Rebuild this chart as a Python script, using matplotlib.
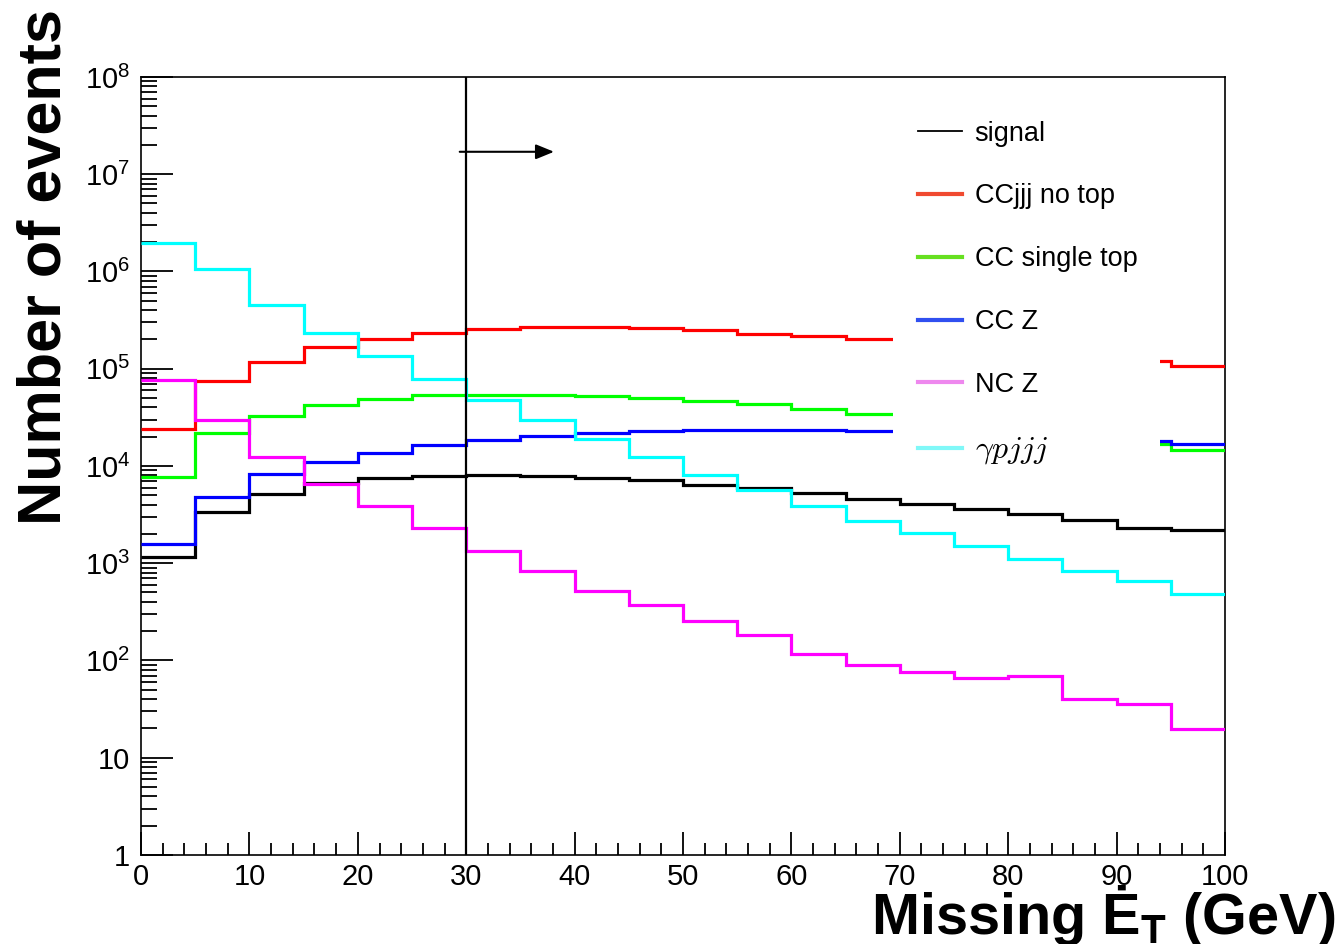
import matplotlib
matplotlib.use("Agg")
import matplotlib.pyplot as plt
from matplotlib.lines import Line2D
from matplotlib.patches import Rectangle
from matplotlib.ticker import FixedLocator, LogLocator, NullFormatter, FuncFormatter
import numpy as np

plt.rcParams["font.family"] = ["Liberation Sans", "DejaVu Sans"]

# 5 GeV bins of missing transverse energy
edges = [0, 5, 10, 15, 20, 25, 30, 35, 40, 45, 50,
         55, 60, 65, 70, 75, 80, 85, 90, 95, 100]

signal = [1.16e3, 3.35e3, 5.2e3, 6.75e3, 7.6e3, 7.9e3, 8.05e3, 7.9e3, 7.5e3, 7.1e3,
          6.3e3, 5.97e3, 5.3e3, 4.6e3, 4.1e3, 3.63e3, 3.17e3, 2.76e3, 2.29e3, 2.19e3]
ccjjj_notop = [2.4e4, 7.4e4, 1.17e5, 1.66e5, 2.04e5, 2.35e5, 2.56e5, 2.68e5, 2.68e5, 2.6e5,
               2.5e5, 2.3e5, 2.18e5, 2.0e5, 1.84e5, 1.68e5, 1.52e5, 1.36e5, 1.2e5, 1.07e5]
cc_single_top = [7.7e3, 2.2e4, 3.3e4, 4.25e4, 4.85e4, 5.35e4, 5.37e4, 5.37e4, 5.25e4, 5.03e4,
                 4.66e4, 4.37e4, 3.89e4, 3.46e4, 3.0e4, 2.6e4, 2.25e4, 1.95e4, 1.7e4, 1.45e4]
cc_z = [1.56e3, 4.8e3, 8.3e3, 1.1e4, 1.37e4, 1.63e4, 1.86e4, 2.04e4, 2.2e4, 2.27e4,
        2.32e4, 2.35e4, 2.37e4, 2.28e4, 2.2e4, 2.1e4, 2.0e4, 1.9e4, 1.8e4, 1.69e4]
nc_z = [7.7e4, 2.95e4, 1.24e4, 6.6e3, 3.86e3, 2.32e3, 1.32e3, 830, 524, 376,
        256, 184, 117, 90.5, 77, 66, 70, 40.5, 35.6, 19.9]
gamma_pjjj = [1.96e6, 1.05e6, 4.5e5, 2.35e5, 1.35e5, 7.9e4, 4.8e4, 2.95e4, 1.9e4, 1.23e4,
              8.1e3, 5.6e3, 3.9e3, 2.74e3, 2.03e3, 1.5e3, 1.11e3, 830, 653, 484]

labels = ["signal", "CCjjj no top", "CC single top", "CC Z", "NC Z", r"$\gamma p j j j$"]
line_colors = ["black", "#ff0000", "#00ff00", "#0000ff", "#ff00ff", "#00ffff"]
key_colors = ["black", "#f04a30", "#66e020", "#3050f0", "#ee88ee", "#80f8f8"]

cut_value = 30

fig = plt.figure(figsize=(13.42, 9.44), dpi=100)
ax = fig.add_axes([0.1051, 0.0943, 0.8077, 0.8242])

for vals, col in zip([signal, ccjjj_notop, cc_single_top, cc_z, nc_z, gamma_pjjj], line_colors):
    ax.stairs(vals, edges, baseline=None, color=col, lw=2.3, zorder=3)

ax.set_yscale("log")
ax.set_xlim(0, 100)
ax.set_ylim(1, 1e8)

# selection cut and direction arrow
ax.axvline(cut_value, color="black", lw=1.6, zorder=4)
ax.annotate("", xy=(38.1, 1.7e7), xytext=(29.4, 1.7e7),
            arrowprops=dict(arrowstyle="-|>,head_length=1.1,head_width=0.45",
                            color="black", lw=1.5, shrinkA=0, shrinkB=0), zorder=5)

# ROOT-style ticks
ax.xaxis.set_major_locator(FixedLocator([0, 10, 20, 30, 40, 50, 60, 70, 80, 90, 100]))
ax.xaxis.set_minor_locator(FixedLocator(list(range(0, 101, 2))))
ax.yaxis.set_major_locator(LogLocator(base=10, numticks=20))
ax.yaxis.set_minor_locator(LogLocator(base=10, subs=np.arange(2, 10), numticks=20))
ax.yaxis.set_minor_formatter(NullFormatter())


def ylab(v, pos):
    n = int(round(np.log10(v)))
    if n == 0:
        return "1"
    if n == 1:
        return "10"
    return "10$^{\\mathregular{%d}}$" % n


ax.yaxis.set_major_formatter(FuncFormatter(ylab))
ax.tick_params(axis="both", which="both", direction="in", top=False, right=False,
               labelsize=21, width=1.3, colors="black")
ax.tick_params(axis="x", which="major", length=16.5, pad=6)
ax.tick_params(axis="x", which="minor", length=8.6)
ax.tick_params(axis="y", which="major", length=23, pad=8)
ax.tick_params(axis="y", which="minor", length=11.5)
for sp in ax.spines.values():
    sp.set_linewidth(1.2)

# legend on an opaque white pad
ax.add_patch(Rectangle((0.6935, 0.50), 0.247, 0.47, transform=ax.transAxes,
                       facecolor="white", edgecolor="none", zorder=6))
handles = [Line2D([], [], color=c, lw=(1.3 if i == 0 else 3.0)) for i, c in enumerate(key_colors)]
leg = ax.legend(handles, labels, loc="upper left", bbox_to_anchor=(0.7165, 0.944),
                frameon=False, fontsize=19.5, handlelength=1.65, handletextpad=0.45,
                labelspacing=1.36, borderpad=0, borderaxespad=0)
leg.set_zorder(7)
gtxt = leg.get_texts()[5]
gtxt.set_math_fontfamily("cm")
gtxt.set_fontsize(23)

fig.text(0.0335, 0.717, "Number of events", rotation=90, ha="center", va="center",
         fontsize=44, fontweight="bold")
fig.text(0.995, 0.011, "Missing \u0116$_{\\mathregular{T}}$ (GeV)", ha="right", va="baseline",
         fontsize=41.5, fontweight="bold")

fig.savefig("out.png", dpi=100, facecolor="white")
